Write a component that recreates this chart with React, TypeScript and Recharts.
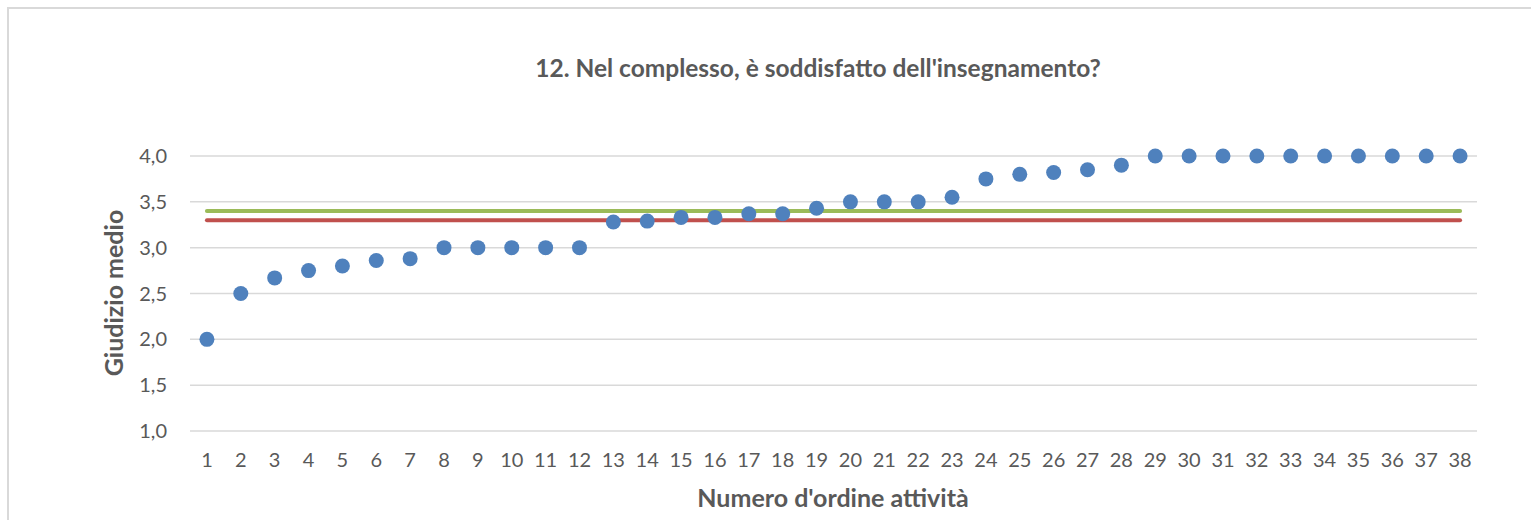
import React from 'react';
import { ComposedChart, Line, XAxis, YAxis, CartesianGrid } from 'recharts';

const categories = [1, 2, 3, 4, 5, 6, 7, 8, 9, 10, 11, 12, 13, 14, 15, 16, 17, 18, 19, 20, 21, 22, 23, 24, 25, 26, 27, 28, 29, 30, 31, 32, 33, 34, 35, 36, 37, 38];
const giudizio = [2.0, 2.5, 2.67, 2.75, 2.8, 2.86, 2.88, 3.0, 3.0, 3.0, 3.0, 3.0, 3.28, 3.29, 3.33, 3.33, 3.37, 3.37, 3.43, 3.5, 3.5, 3.5, 3.55, 3.75, 3.8, 3.82, 3.85, 3.9, 4.0, 4.0, 4.0, 4.0, 4.0, 4.0, 4.0, 4.0, 4.0, 4.0];
const mediaVerde = 3.4;
const mediaRossa = 3.3;
const yTicks = [1.0, 1.5, 2.0, 2.5, 3.0, 3.5, 4.0];

const title = "12. Nel complesso, è soddisfatto dell'insegnamento?";
const xTitle = "Numero d'ordine attività";
const yTitle = 'Giudizio medio';

const data = categories.map((n, i) => ({ n, v: giudizio[i], g: mediaVerde, r: mediaRossa }));

const FONT = 'Lato, "Open Sans", sans-serif';
const TXT = '#595959';

const YTitle = () => (
  <text
    x={105}
    y={285}
    transform="rotate(-90, 105, 285)"
    textAnchor="middle"
    dominantBaseline="central"
    fontFamily={FONT}
    fontWeight="bold"
    fontSize={25}
    fill={TXT}
  >
    {yTitle}
  </text>
);

const XTitle = () => (
  <text x={825} y={499} textAnchor="middle" fontFamily={FONT} fontWeight="bold" fontSize={25} fill={TXT}>
    {xTitle}
  </text>
);

export default function App() {
  return (
    <div style={{ position: 'fixed', left: 0, top: 0, width: 1531, height: 520, overflow: 'hidden', background: '#fff' }}>
      <div style={{ position: 'absolute', left: 8, top: 8, width: 1523, height: 512 }}>
        <div
          style={{
            position: 'absolute',
            left: -1,
            top: -1,
            width: 1700,
            height: 700,
            border: '2px solid #d9d9d9',
            boxSizing: 'border-box',
          }}
        />
        <div
          style={{
            position: 'absolute',
            left: 0,
            top: 48,
            width: 1620,
            textAlign: 'center',
            fontFamily: FONT,
            fontWeight: 'bold',
            fontSize: 24.5,
            lineHeight: '24px',
            color: TXT,
            whiteSpace: 'nowrap',
          }}
        >
          {title}
        </div>
        <div style={{ position: 'absolute', left: 0, top: 0 }}>
          <ComposedChart width={1523} height={512} data={data} margin={{ top: 148, right: 54, left: 0, bottom: 0 }}>
            <CartesianGrid vertical={false} stroke="#d9d9d9" strokeWidth={1.5} />
            <XAxis
              dataKey="n"
              type="category"
              scale="band"
              height={89}
              axisLine={false}
              tickLine={false}
              tickSize={0}
              tickMargin={22}
              interval={0}
              tick={{ fill: TXT, fontSize: 20, fontFamily: FONT }}
              label={<XTitle />}
            />
            <YAxis
              width={182}
              domain={[1, 4]}
              ticks={yTicks}
              type="number"
              axisLine={false}
              tickLine={false}
              tickSize={0}
              tickMargin={23}
              interval={0}
              tickFormatter={(v: number) => v.toFixed(1).replace('.', ',')}
              tick={{ fill: TXT, fontSize: 20, fontFamily: FONT }}
              label={<YTitle />}
            />
            <Line dataKey="g" stroke="#9bbb59" strokeWidth={4} strokeLinecap="round" dot={false} activeDot={false} isAnimationActive={false} />
            <Line dataKey="r" stroke="#c0504d" strokeWidth={4} strokeLinecap="round" dot={false} activeDot={false} isAnimationActive={false} />
            <Line
              dataKey="v"
              stroke="none"
              strokeWidth={0}
              dot={{ r: 7.5, fill: '#4f81bd', stroke: 'none' }}
              activeDot={false}
              isAnimationActive={false}
            />
          </ComposedChart>
        </div>
      </div>
    </div>
  );
}
